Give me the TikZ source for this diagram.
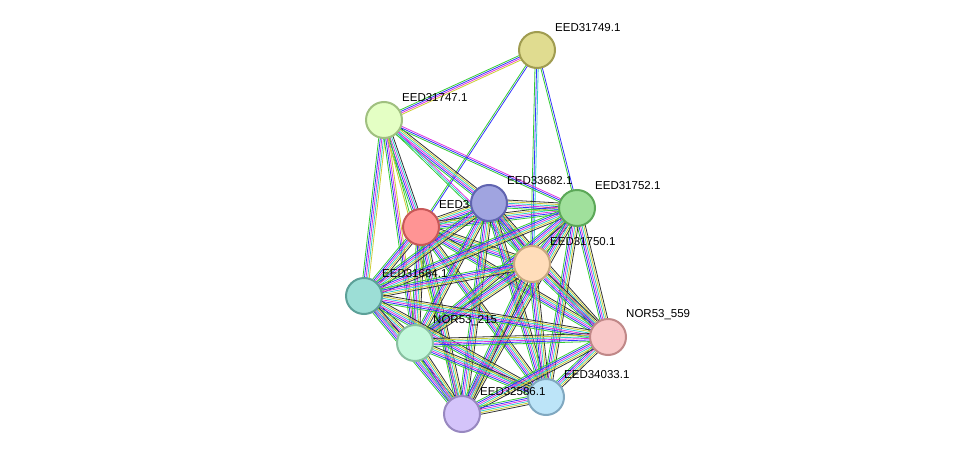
\documentclass[tikz,border=0pt]{standalone}
\usepackage{fontspec}
\setmainfont{Liberation Sans}
\usetikzlibrary{calc,backgrounds}
\definecolor{eg}{HTML}{33CC33}
\definecolor{eb}{HTML}{3333FF}
\definecolor{em}{HTML}{E033E0}
\definecolor{ec}{HTML}{33CCCC}
\definecolor{ey}{HTML}{CCCC33}
\definecolor{ek}{HTML}{333333}
\definecolor{er}{HTML}{FF3333}
\definecolor{el}{HTML}{AAAAEE}
\tikzset{
 prot/.style={circle,minimum size=36pt,inner sep=0pt,line width=2pt},
 lab/.style={anchor=west,font=\fontsize{11.5}{12}\selectfont,inner sep=0pt},
}
\newcommand\bund[4]{%
 \foreach \c [count=\i] in {#4} {%
  \pgfmathsetmacro\o{(\i-(#3+1)/2)*1.6}
  \draw[\c,line width=0.8pt] ($(#1.center)!\o pt!90:(#2.center)$) -- ($(#2.center)!\o pt!-90:(#1.center)$);
 }}
\begin{document}
\begin{tikzpicture}[x=1pt,y=-1pt]
\useasboundingbox (0,0) rectangle (976,460);
\def\P#1#2#3#4#5#6{\definecolor{f#1}{HTML}{#4}\definecolor{d#1}{HTML}{#5}%
 \node[prot,fill=f#1,draw=d#1] (#1) at (#2,#3) {};
 \node[lab] (#1l) at (#2+18,#3-22) {#6};}
\P{a}{537}{50}{E0DC90}{A09C50}{EED31749.1}
\P{b}{384}{120}{E4FFC4}{A0C080}{EED31747.1}
\P{c}{489}{203}{A0A4E0}{6064B0}{EED33682.1}
\P{d}{577}{208}{A0E09C}{5CA858}{EED31752.1}
\P{e}{421}{227}{FF9494}{C85858}{EED3}
\P{f}{532}{264}{FFDDBA}{C8A880}{EED31750.1}
\P{g}{364}{296}{9CDED6}{5CA098}{EED31684.1}
\P{h}{415}{343}{C4F8DC}{88C0A0}{NOR53\_215}
\P{i}{608}{337}{F8C8C8}{C08888}{NOR53\_559}
\P{j}{546}{397}{BCE4F8}{80A8C0}{EED34033.1}
\P{k}{462}{414}{D4C4FA}{9888C0}{EED32586.1}
\begin{scope}[on background layer]
\bund{a}{b}{4}{eg,eb,em,ey}
\bund{a}{d}{2}{eg,eb}
\bund{a}{f}{3}{eg,eb,ec}
\bund{a}{e}{2}{eg,eb}
\bund{b}{e}{5}{eg,eb,em,ec,ek}
\bund{b}{c}{6}{eg,eb,em,ec,ey,ek}
\bund{b}{d}{3}{eg,eb,em}
\bund{b}{f}{3}{eg,ec,em}
\bund{b}{g}{5}{eg,eb,em,ec,ey}
\bund{b}{h}{4}{eg,eb,em,ey}
\bund{b}{k}{2}{ey,eg}
\foreach \u/\v in {e/c,e/d,e/f,e/g,e/h,e/i,e/j,e/k,c/d,c/f,c/g,c/h,c/i,c/j,c/k,d/f,d/g,d/h,d/i,d/j,d/k,f/g,f/h,f/i,f/j,f/k,g/h,g/i,g/j,g/k,h/i,h/j,h/k,i/j,i/k,j/k}{
 \bund{\u}{\v}{6}{eg,eb,em,ec,ey,ek}}
\bund{g}{k}{1}{el}
\end{scope}
\end{tikzpicture}
\end{document}
